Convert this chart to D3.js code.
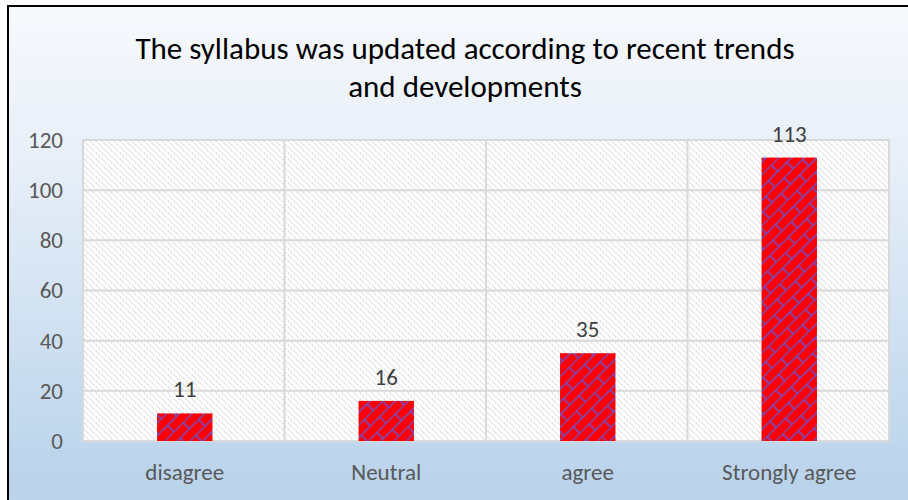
<!DOCTYPE html>
<html>
<head>
<meta charset="utf-8">
<script src="https://cdn.jsdelivr.net/npm/d3@7"></script>
<style>
  body { margin: 0; background: #fff; }
  text { font-family: Carlito, Calibri, Lato, sans-serif; }
</style>
</head>
<body>
<div id="graf"></div>
<script>
// Datos del gráfico
categorias = ['disagree', 'Neutral', 'agree', 'Strongly agree']
valores    = [11, 16, 35, 113]
ticksY     = [0, 20, 40, 60, 80, 100, 120]
titulo     = ['The syllabus was updated according to recent trends', 'and developments']

ancho_total = 908
alto_total  = 500
margins = { top: 140, left: 83, right: 19, bottom: 59 }
ancho = ancho_total - margins.left - margins.right
alto  = alto_total - margins.top - margins.bottom

svg = d3.select('#graf').append('svg')
        .attr('width', ancho_total)
        .attr('height', alto_total)

defs = svg.append('defs')

// fondo degradado
grad = defs.append('linearGradient')
  .attr('id', 'fondo')
  .attr('x1', 0).attr('y1', 0).attr('x2', 0).attr('y2', 1)
grad.append('stop').attr('offset', '0%').attr('stop-color', '#f7f9fd')
grad.append('stop').attr('offset', '30%').attr('stop-color', '#e6eef8')
grad.append('stop').attr('offset', '86%').attr('stop-color', '#b9d3eb')
grad.append('stop').attr('offset', '100%').attr('stop-color', '#c9ddf1')

// rayado del area de trazado
rayas = defs.append('pattern')
  .attr('id', 'rayas')
  .attr('patternUnits', 'userSpaceOnUse')
  .attr('width', 6).attr('height', 6)
rayas.append('rect').attr('width', 6).attr('height', 6).attr('fill', '#ffffff')
rayas.append('path')
  .attr('d', 'M-1,-1 L7,7 M-1,5 L1,7 M5,-1 L7,1')
  .attr('stroke', '#d6d6d6')
  .attr('stroke-width', 1.3)
  .attr('stroke-dasharray', '1.5,1')

// ladrillo diagonal de las barras
ladrillo = defs.append('pattern')
  .attr('id', 'ladrillo')
  .attr('patternUnits', 'userSpaceOnUse')
  .attr('width', 26).attr('height', 18)
  .attr('patternTransform', 'rotate(-45)')
ladrillo.append('rect').attr('width', 26).attr('height', 18).attr('fill', '#ff0000')
ladrillo.append('path')
  .attr('d', 'M0,0.5 H26 M0,9.5 H26 M1,0 V9.5 M14,9.5 V18')
  .attr('stroke', '#6f4fc8')
  .attr('stroke-width', 1.6)

// Fondo del gráfico con borde
svg.append('rect')
  .attr('x', 0).attr('y', 0)
  .attr('width', ancho_total).attr('height', alto_total)
  .attr('fill', '#ffffff')
svg.append('rect')
  .attr('x', 8).attr('y', 6)
  .attr('width', 960).attr('height', 560)
  .attr('fill', 'url(#fondo)')
  .attr('stroke', '#000000')
  .attr('stroke-width', 2)

// Titulo
titulo.forEach((t, i) => {
  svg.append('text')
    .attr('x', 465)
    .attr('y', 59 + i * 38)
    .attr('text-anchor', 'middle')
    .attr('font-size', '31px')
    .attr('fill', '#000000')
    .text(t)
})

g = svg.append('g')
       .attr('transform', `translate(${ margins.left }, ${ margins.top })`)

// Escaladores
x = d3.scaleBand().domain(categorias).range([0, ancho]).padding(0)
y = d3.scaleLinear().domain([0, 120]).range([alto, 0])

g.append('rect')
  .attr('x', 0).attr('y', 0)
  .attr('width', ancho).attr('height', alto)
  .attr('fill', 'url(#rayas)')

// lineas de cuadricula
g.selectAll('.gy')
  .data(ticksY)
  .enter().append('line')
    .attr('x1', 0).attr('x2', ancho)
    .attr('y1', d => y(d)).attr('y2', d => y(d))
    .attr('stroke', '#d9d9d9')
    .attr('stroke-width', 2)

g.selectAll('.gx')
  .data(categorias.slice(1))
  .enter().append('line')
    .attr('x1', d => x(d)).attr('x2', d => x(d))
    .attr('y1', 0).attr('y2', alto)
    .attr('stroke', '#d9d9d9')
    .attr('stroke-width', 2)

g.append('rect')
  .attr('x', 0).attr('y', 0)
  .attr('width', ancho).attr('height', alto)
  .attr('fill', 'none')
  .attr('stroke', '#d9d9d9')
  .attr('stroke-width', 2)

// Barras
anchoBarra = x.bandwidth() * 0.275
g.selectAll('.barra')
  .data(valores)
  .enter().append('rect')
    .attr('x', (d, i) => x(categorias[i]) + x.bandwidth() / 2 - anchoBarra / 2 + 1)
    .attr('y', d => y(d))
    .attr('width', anchoBarra)
    .attr('height', d => alto - y(d))
    .attr('fill', 'url(#ladrillo)')

// etiquetas de datos
g.selectAll('.etq')
  .data(valores)
  .enter().append('text')
    .attr('x', (d, i) => x(categorias[i]) + x.bandwidth() / 2 + 1)
    .attr('y', d => y(d) - 16)
    .attr('text-anchor', 'middle')
    .attr('font-size', '23px')
    .attr('fill', '#404040')
    .text(d => d)

// Ejes (sin linea)
ejeY = g.append('g')
        .call(d3.axisLeft(y).tickValues(ticksY).tickSize(0).tickPadding(20))
ejeY.select('.domain').remove()
ejeY.selectAll('text')
  .attr('font-size', '23px')
  .attr('fill', '#595959')
  .attr('font-family', 'Carlito, Calibri, Lato, sans-serif')

ejeX = g.append('g')
        .attr('transform', `translate(1, ${ alto })`)
        .call(d3.axisBottom(x).tickSize(0).tickPadding(23))
ejeX.select('.domain').remove()
ejeX.selectAll('text')
  .attr('font-size', '23px')
  .attr('fill', '#595959')
  .attr('font-family', 'Carlito, Calibri, Lato, sans-serif')
</script>
</body>
</html>
